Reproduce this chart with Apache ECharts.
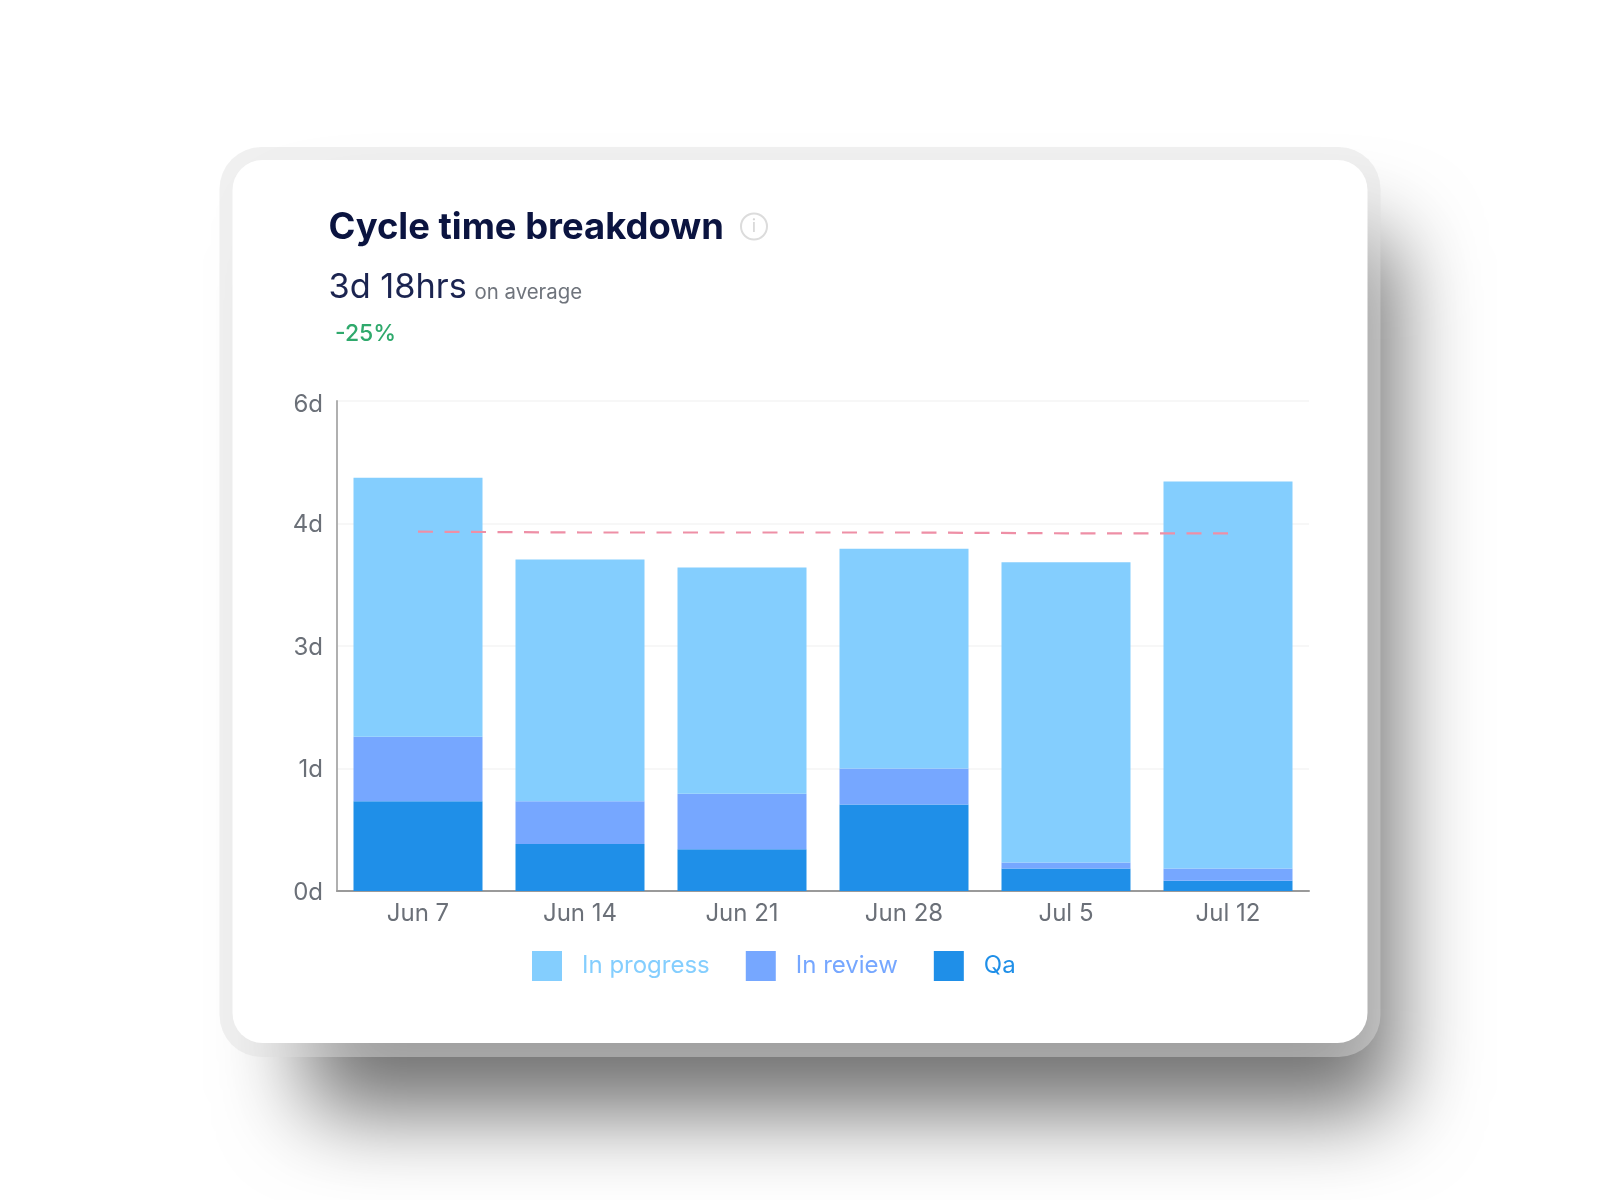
<!DOCTYPE html>
<html>
<head>
<meta charset="utf-8">
<style>html,body{margin:0;padding:0;background:#fff}#c{width:1600px;height:1200px}</style>
<script src="https://cdn.jsdelivr.net/npm/echarts@6/dist/echarts.min.js"></script>
</head>
<body>
<div id="c"></div>
<script>
const categories = ['Jun 7','Jun 14','Jun 21','Jun 28','Jul 5','Jul 12'];
const inProgress = [3.17,2.96,2.77,2.69,3.675,4.74];
const inReview = [0.79,0.525,0.68,0.44,0.075,0.15];
const qa = [1.10,0.575,0.51,1.06,0.275,0.125];
const averageLine = [4.40,4.39,4.39,4.39,4.38,4.38];
const yTickLabels = ['0d','1d','3d','4d','6d'];
const FONT = 'Inter, "Noto Sans", sans-serif';
const AXIS_TEXT = '#6b7078';
const chart = echarts.init(document.getElementById('c'), null, {renderer:'canvas', width:1600, height:1200});
chart.setOption({
  animation:false,
  backgroundColor:'#ffffff',
  textStyle:{fontFamily:FONT},
  grid:{left:337,top:401,width:972,height:490,containLabel:false},
  legend:{
    show:true,left:532,top:951,itemWidth:30,itemHeight:30,itemGap:36,
    padding:0,icon:'rect',
    data:['In progress','In review','Qa'],
    textStyle:{color:'inherit',fontSize:24,fontFamily:FONT,padding:[0,0,0,15]},
    itemStyle:{borderWidth:0}
  },
  xAxis:{
    type:'category',data:categories,boundaryGap:true,
    axisLine:{show:true,lineStyle:{color:'#9a9a9a',width:2}},
    axisTick:{show:false},
    axisLabel:{color:AXIS_TEXT,fontSize:24,margin:11,fontFamily:FONT},
    splitLine:{show:false}
  },
  yAxis:{
    type:'value',min:0,max:6,interval:1.5,
    axisLine:{show:true,lineStyle:{color:'#b0b0b0',width:2}},
    axisTick:{show:false},
    axisLabel:{
      color:AXIS_TEXT,fontSize:24,margin:14,fontFamily:FONT,
      formatter:(v,i)=> i===yTickLabels.length-1 ? '{top|'+yTickLabels[i]+'}' : '{norm|'+yTickLabels[i]+'}',
      rich:{
        top:{color:AXIS_TEXT,fontSize:24,fontFamily:FONT,padding:[8,0,0,0]},
        norm:{color:AXIS_TEXT,fontSize:24,fontFamily:FONT,padding:[3,0,0,0]}
      }
    },
    splitLine:{show:true,lineStyle:{color:'#f7f7f7',width:2}}
  },
  series:[
    {name:'Qa',type:'bar',stack:'t',data:qa,barWidth:129,itemStyle:{color:'#1f8fe8'}},
    {name:'In review',type:'bar',stack:'t',data:inReview,itemStyle:{color:'#76a7ff'}},
    {name:'In progress',type:'bar',stack:'t',data:inProgress,itemStyle:{color:'#84cefe'}},
    {name:'Average',type:'line',data:averageLine,symbol:'none',z:5,
      lineStyle:{color:'#ee8fa6',width:2.2,type:[15,11.5]}}
  ],
  graphic:{elements:[
    {type:'rect',z:-30,silent:true,shape:{x:305-3000,y:235,width:1090,height:878,r:30},
      style:{fill:'#000',shadowColor:'rgba(0,0,0,0.56)',shadowBlur:85,shadowOffsetX:3000,shadowOffsetY:0}},
    {type:'rect',z:-20,silent:true,shape:{x:219.5,y:147,width:1161,height:910,r:42},
      style:{fill:'rgba(220,220,220,0.43)'}},
    {type:'rect',z:-10,silent:true,shape:{x:232.5,y:160,width:1135,height:883,r:30},
      style:{fill:'#ffffff'}},
    {type:'text',z:10,silent:true,x:328.5,y:228,style:{text:'Cycle time breakdown',fill:'#0b1440',font:'700 36.4px '+FONT,textVerticalAlign:'middle'}},
    {type:'circle',z:10,silent:true,shape:{cx:754,cy:226.5,r:13},style:{fill:'none',stroke:'#dcdcdc',lineWidth:2}},
    {type:'text',z:10,silent:true,x:754,y:227,style:{text:'i',fill:'#d6d6d6',font:'400 18px '+FONT,textAlign:'center',textVerticalAlign:'middle'}},
    {type:'text',z:10,silent:true,x:328.5,y:288,style:{text:'3d 18hrs',fill:'#1b2450',font:'400 34.3px '+FONT,textVerticalAlign:'middle'}},
    {type:'text',z:10,silent:true,x:474.5,y:293,style:{text:'on average',fill:'#6f747c',font:'400 20.4px '+FONT,textVerticalAlign:'middle'}},
    {type:'text',z:10,silent:true,x:335,y:334,style:{text:'-25%',fill:'#2fa96c',font:'500 23px '+FONT,textVerticalAlign:'middle'}}
  ]}
});
</script>
</body>
</html>
